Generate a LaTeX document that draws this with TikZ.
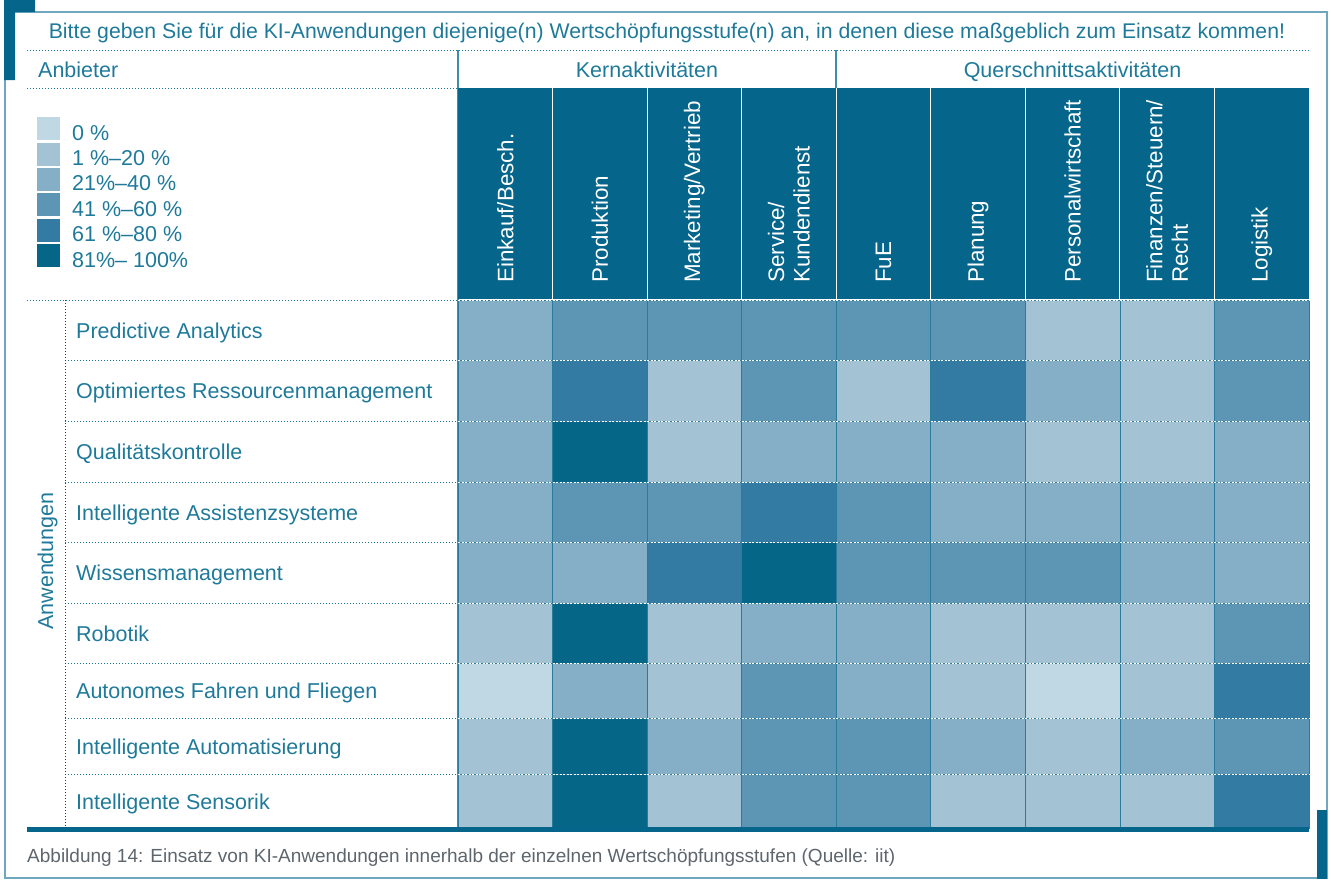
\documentclass[tikz,border=0pt]{standalone}
\usepackage{fontspec}
\setmainfont{Liberation Sans}
\usetikzlibrary{positioning}

\definecolor{kidark}{HTML}{05658A}
\definecolor{kitext}{HTML}{1F7A9A}
\definecolor{kiframe}{HTML}{6FA7BE}
\definecolor{kiline}{HTML}{3F8CAB}
\definecolor{kigray}{HTML}{5E666D}
\definecolor{lvl0}{HTML}{C0D8E3}
\definecolor{lvl1}{HTML}{A3C3D4}
\definecolor{lvl2}{HTML}{84AFC7}
\definecolor{lvl3}{HTML}{5D95B5}
\definecolor{lvl4}{HTML}{347BA3}
\definecolor{lvl5}{HTML}{066687}

\tikzset{
  txt/.style={inner sep=0pt, text=kitext, font=\fontsize{21.5}{25.5}\selectfont},
  stagelabel/.style={txt, text=white, font=\fontsize{22.4}{25.5}\selectfont, rotate=90, anchor=west, align=left},
  applabel/.style={txt, anchor=base west},
  keybox/.style={fill=lvl#1, minimum size=23pt, inner sep=0pt, anchor=north west},
  rule/.style={kitext, line width=1pt, dash pattern=on 1pt off 2pt},
  cellrule/.style={white, line width=0.9pt, dash pattern=on 2pt off 1.5pt},
}

\begin{document}
\begin{tikzpicture}[x=1pt,y=-1pt]
\useasboundingbox (0,0) rectangle (1331,879);
% frame
\draw[kiframe, line width=1.5pt] (5,12) rectangle (1327,878);
\fill[kidark] (4,0) rectangle (35,12) (4,0) rectangle (15,80);
\fill[kidark] (1317,810) rectangle (1327,879);

\node[txt, font=\fontsize{21.25}{25.5}\selectfont, anchor=base] (question) at (667,38) {Bitte geben Sie für die KI-Anwendungen diejenige(n) Wertschöpfungsstufe(n) an, in denen diese maßgeblich zum Einsatz kommen!};
\draw[rule] (27,50) -- (1309,50);
\draw[rule] (27,88) -- (1309,88);
\node[txt, anchor=base west] (anbieter) at (38,77) {Anbieter};
\node[txt, anchor=base] (kern) at (647,77) {Kernaktivitäten};
\node[txt, anchor=base] (quer) at (1072.5,77) {Querschnittsaktivitäten};
\draw[kiline, line width=1.2pt] (458,50) -- (458,828) (836,50) -- (836,88);

% legend
\foreach \t [count=\k from 0] in {0 \%, 1 \%--20 \%, 21\%--40 \%, 41 \%--60 \%, 61 \%--80 \%, 81\%-- 100\%}{
  \node[keybox=\k] (key\k) at (37,{117+25.4*\k}) {};
  \node[txt, anchor=base west] (keytxt\k) at (72,{140+25.4*\k}) {\t};
}

% stages
\fill[kidark] (458,88) rectangle (1309,299);
\foreach \s [count=\c] in {Einkauf/Besch., Produktion, Marketing/Vertrieb, Service/\\Kundendienst, FuE, Planung, Personalwirtschaft, Finanzen/Steuern/\\Recht, Logistik}
  \node[stagelabel] (stage\c) at ({458+(\c-0.5)*94.56},283) {\s};
\foreach \c in {1,...,8}
  \draw[white, line width=1pt] ({458+\c*94.56},88) -- ({458+\c*94.56},299);

% cells
\draw[rule] (27,300) -- (458,300);
\foreach \ya/\yb/\app/\vals [count=\r] in {
  300/360/Predictive Analytics/{2,3,3,3,3,3,1,1,3},
  360/421/Optimiertes Ressourcenmanagement/{2,4,1,3,1,4,2,1,3},
  421/482/Qualitätskontrolle/{2,5,1,2,2,2,1,1,2},
  482/542/Intelligente Assistenzsysteme/{2,3,3,4,3,2,2,2,2},
  542/603/Wissensmanagement/{2,2,4,5,3,3,3,2,2},
  603/663/Robotik/{1,5,1,2,2,1,1,1,3},
  663/718/Autonomes Fahren und Fliegen/{0,2,1,3,2,1,0,1,4},
  718/774/Intelligente Automatisierung/{1,5,2,3,3,2,1,2,3},
  774/828/Intelligente Sensorik/{1,5,1,3,3,1,1,1,4}}{
  \foreach \v [count=\c from 0] in \vals
    \filldraw[fill=lvl\v, draw=kidark!85, line width=0.7pt] ({458+\c*94.56},\ya) rectangle ({458+(\c+1)*94.56},\yb);
  \node[applabel] (app\r) at (76,{(\ya+\yb)/2+8}) {\app};
  \draw[rule] (65,\yb) -- (458,\yb);
}
\foreach \y in {300,360,421,482,542,603,663,718,774}
  \draw[cellrule] (458,\y) -- (1309,\y);
\draw[black!80, line width=0.8pt, dash pattern=on 1pt off 2pt] (65,300) -- (65,828);
\node[txt, rotate=90, anchor=base] (anwendungen) at (53,561) {Anwendungen};

\fill[kidark] (27,826.5) rectangle (1309,832);
\node[txt, text=kigray, font=\fontsize{19}{23}\selectfont, anchor=base west] (caption) at (27,862) {Abbildung 14: Einsatz von KI-Anwendungen innerhalb der einzelnen Wertschöpfungsstufen (Quelle: iit)};
\end{tikzpicture}
\end{document}
